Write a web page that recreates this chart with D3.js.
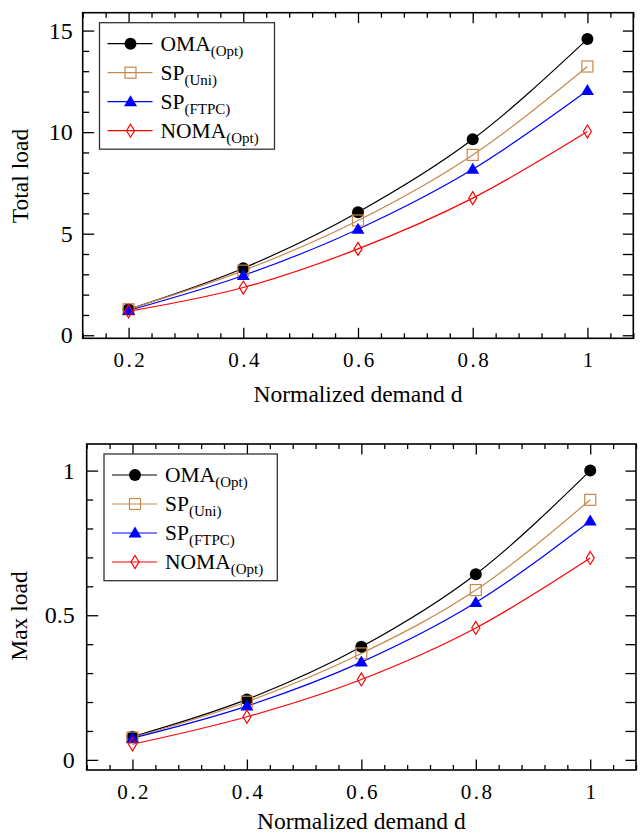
<!DOCTYPE html>
<html>
<head>
<meta charset="utf-8">
<script src="https://cdn.jsdelivr.net/npm/d3@7"></script>
<style>
  body { margin: 0; background: white; }
  svg text { font-family: "Liberation Serif", "Times New Roman", Times, "DejaVu Serif", serif !important; }
</style>
</head>
<body>
<svg id="chart" width="641" height="836"></svg>
<script>
// normalized demand values on the x axis
const demand = [0.2, 0.4, 0.6, 0.8, 1];
const xTickValues = [0.2, 0.4, 0.6, 0.8, 1];

const seriesLabels = ["OMA", "SP", "SP", "NOMA"];
const seriesSubs = ["(Opt)", "(Uni)", "(FTPC)", "(Opt)"];

// top panel - total load
const totalOMA = [1.28, 3.30, 6.06, 9.65, 14.58];
const totalSPUni = [1.28, 3.18, 5.65, 8.88, 13.23];
const totalSPFTPC = [1.22, 2.94, 5.22, 8.17, 12.05];
const totalNOMA = [1.18, 2.35, 4.25, 6.75, 10.03];
const totalTicks = [0, 5, 10, 15];

// bottom panel - max load
const maxOMA = [0.080, 0.209, 0.391, 0.642, 1.0];
const maxSPUni = [0.077, 0.201, 0.368, 0.587, 0.899];
const maxSPFTPC = [0.075, 0.186, 0.338, 0.544, 0.826];
const maxNOMA = [0.054, 0.149, 0.278, 0.456, 0.698];
const maxTicks = [0, 0.5, 1];

const colors = ["#000000", "#c8884c", "#0000ff", "#ff0000"];

const svg = d3.select("#chart");

function drawMarker(g, i, x, y) {
  if (i === 0) {
    g.append("circle").attr("cx", x).attr("cy", y).attr("r", 6).attr("fill", "#000");
  } else if (i === 1) {
    g.append("rect").attr("x", x - 5.5).attr("y", y - 5.5).attr("width", 11).attr("height", 11)
      .attr("fill", "none").attr("stroke", colors[1]).attr("stroke-width", 1.2);
  } else if (i === 2) {
    g.append("path").attr("d", `M${x},${y - 6.5}L${x + 6.5},${y + 4.5}L${x - 6.5},${y + 4.5}Z`)
      .attr("fill", colors[2]);
  } else {
    g.append("path").attr("d", `M${x},${y - 6.5}L${x + 4},${y}L${x},${y + 6.5}L${x - 4},${y}Z`)
      .attr("fill", "none").attr("stroke", colors[3]).attr("stroke-width", 1.2);
  }
}

function drawPanel(p) {
  const g = svg.append("g");
  const x = d3.scaleLinear().domain([0.12, 1.08]).range([p.left, p.right]);
  const y = d3.scaleLinear().domain(p.yDomain).range([p.bottom, p.top]);

  const xMinor = d3.range(0.12, 1.081, 0.04).map(v => +v.toFixed(2)).filter(v => !xTickValues.some(t => Math.abs(t - v) < 1e-6));
  const yMinor = d3.range(p.minorStep * Math.ceil(p.yDomain[0] / p.minorStep), p.yDomain[1], p.minorStep)
    .map(v => +v.toFixed(3)).filter(v => !p.yTicks.some(t => Math.abs(t - v) < 1e-6));

  // bottom axis
  g.append("g").attr("transform", `translate(0,${p.bottom})`)
    .call(d3.axisBottom(x).tickValues(xMinor).tickSize(-5).tickFormat(""));
  g.append("g").attr("transform", `translate(0,${p.bottom})`)
    .call(d3.axisBottom(x).tickValues(xTickValues).tickSize(-10.5).tickPadding(14).tickFormat(d3.format("")))
    .selectAll("text").style("font-size", "21px").style("letter-spacing", "2.5px").attr("dx", "1.25px");
  // top axis
  g.append("g").attr("transform", `translate(0,${p.top})`)
    .call(d3.axisTop(x).tickValues(xMinor).tickSize(-5).tickFormat(""));
  g.append("g").attr("transform", `translate(0,${p.top})`)
    .call(d3.axisTop(x).tickValues(xTickValues).tickSize(-10.5).tickFormat(""));
  // left axis
  g.append("g").attr("transform", `translate(${p.left},0)`)
    .call(d3.axisLeft(y).tickValues(yMinor).tickSize(-6.5).tickFormat(""));
  g.append("g").attr("transform", `translate(${p.left},0)`)
    .call(d3.axisLeft(y).tickValues(p.yTicks).tickSize(-11.5).tickPadding(p.yPad).tickFormat(d3.format("")))
    .selectAll("text").style("font-size", "24px");
  // right axis
  g.append("g").attr("transform", `translate(${p.right},0)`)
    .call(d3.axisRight(y).tickValues(yMinor.concat(p.yTicks)).tickSize(-10.5).tickFormat(""));

  g.selectAll(".domain").remove();
  g.selectAll(".tick line").attr("stroke", "#000").attr("stroke-width", 1.3);
  g.selectAll(".tick text").attr("fill", "#000");

  // frame
  g.append("rect").attr("x", p.left).attr("y", p.top)
    .attr("width", p.right - p.left).attr("height", p.bottom - p.top)
    .attr("fill", "none").attr("stroke", "#000").attr("stroke-width", 1.6);

  // series
  const line = d3.line().x((d, i) => x(demand[i])).y(d => y(d)).curve(d3.curveMonotoneX);
  p.series.forEach((s, i) => {
    g.append("path").datum(s).attr("d", line)
      .attr("fill", "none").attr("stroke", colors[i]).attr("stroke-width", 1.2);
  });
  p.series.forEach((s, i) => {
    s.forEach((v, j) => drawMarker(g, i, x(demand[j]), y(v)));
  });

  // legend
  const lg = g.append("g");
  lg.append("rect").attr("x", p.legend.x).attr("y", p.legend.y)
    .attr("width", p.legend.w).attr("height", p.legend.h)
    .attr("fill", "white").attr("stroke", "#333").attr("stroke-width", 1.3);
  seriesLabels.forEach((name, i) => {
    const ly = p.legend.y + 21 + i * 29;
    const lx = p.legend.x + 8;
    lg.append("line").attr("x1", lx).attr("x2", lx + 45).attr("y1", ly).attr("y2", ly)
      .attr("stroke", colors[i]).attr("stroke-width", 1.2);
    drawMarker(lg, i, lx + 23, ly);
    const t = lg.append("text").attr("x", lx + 53).attr("y", ly + 7)
      .style("font-size", "21.5px").attr("fill", "#000");
    t.append("tspan").text(name);
    t.append("tspan").attr("dy", 5).style("font-size", "15px").text(seriesSubs[i]);
  });

  // axis titles
  g.append("text").attr("transform", `translate(${p.yTitleX},${p.yTitleY}) rotate(-90)`)
    .attr("text-anchor", "middle").style("font-size", "23.5px").text(p.yTitle);
  g.append("text").attr("x", (p.left + p.right) / 2).attr("y", p.xTitleY)
    .attr("text-anchor", "middle").style("font-size", "23.5px").text("Normalized demand d");
}

drawPanel({
  left: 82.7, right: 633.3, top: 12.7, bottom: 338.3,
  yDomain: [-0.15, 15.88], yTicks: totalTicks, minorStep: 1, yPad: 10,
  series: [totalOMA, totalSPUni, totalSPFTPC, totalNOMA],
  legend: { x: 99.5, y: 22.7, w: 175, h: 126.5 },
  yTitle: "Total load", yTitleX: 28, yTitleY: 176, xTitleY: 401.5
});

drawPanel({
  left: 86.7, right: 636, top: 444, bottom: 770,
  yDomain: [-0.035, 1.092], yTicks: maxTicks, minorStep: 0.1, yPad: 12,
  series: [maxOMA, maxSPUni, maxSPFTPC, maxNOMA],
  legend: { x: 104, y: 454, w: 173.3, h: 126.7 },
  yTitle: "Max load", yTitleX: 27, yTitleY: 616, xTitleY: 829
});
</script>
</body>
</html>
